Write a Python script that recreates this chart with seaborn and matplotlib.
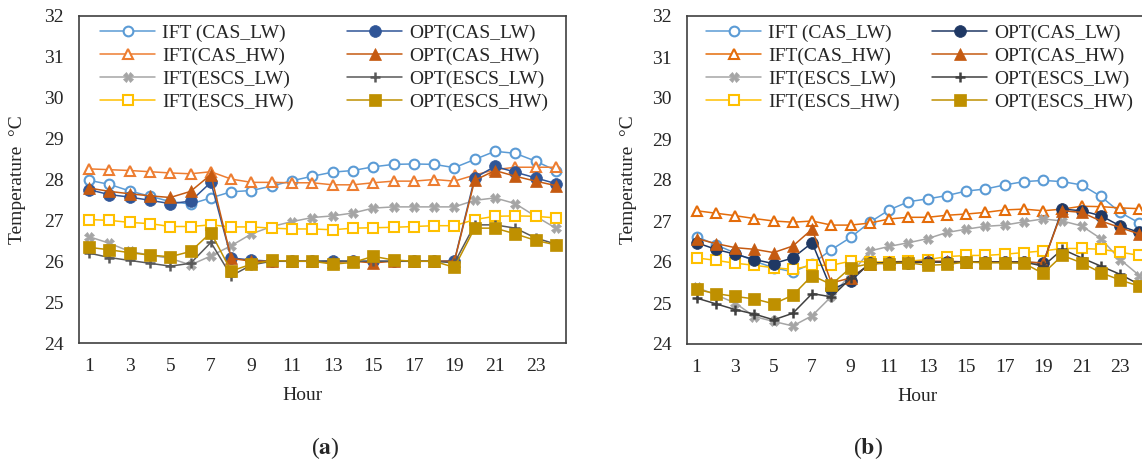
import numpy as np
import pandas as pd
import seaborn as sns
import matplotlib.pyplot as plt

# 시간(Hour) 1~24
hours = list(range(1, 25))
hour_ticks = list(range(1, 24, 2))
temp_ticks = list(range(24, 33))

labels = ['IFT (CAS_LW)', 'IFT(CAS_HW)', 'IFT(ESCS_LW)', 'IFT(ESCS_HW)',
          'OPT(CAS_LW)', 'OPT(CAS_HW)', 'OPT(ESCS_LW)', 'OPT(ESCS_HW)']

# (a)
a_ift_cas_lw = [27.98, 27.88, 27.72, 27.59, 27.46, 27.40, 27.55, 27.70, 27.73, 27.84, 27.97, 28.08,
                28.18, 28.22, 28.31, 28.37, 28.38, 28.37, 28.29, 28.49, 28.69, 28.64, 28.45, 28.22]
a_ift_cas_hw = [28.26, 28.24, 28.22, 28.19, 28.16, 28.14, 28.19, 28.01, 27.93, 27.93, 27.92, 27.92,
                27.87, 27.87, 27.92, 27.96, 27.96, 28.00, 27.96, 28.11, 28.24, 28.30, 28.30, 28.30]
a_ift_escs_lw = [26.60, 26.44, 26.24, 26.15, 26.07, 25.91, 26.13, 26.38, 26.67, 26.85, 26.97, 27.07,
                 27.11, 27.18, 27.30, 27.33, 27.33, 27.33, 27.33, 27.49, 27.55, 27.41, 27.10, 26.81]
a_ift_escs_hw = [27.02, 27.00, 26.95, 26.92, 26.85, 26.85, 26.89, 26.84, 26.84, 26.81, 26.79, 26.79,
                 26.77, 26.81, 26.82, 26.83, 26.85, 26.87, 26.87, 27.02, 27.10, 27.11, 27.10, 27.06]
a_opt_cas_lw = [27.75, 27.63, 27.57, 27.49, 27.41, 27.47, 27.93, 26.08, 26.03, 26.00, 26.00, 26.00,
                26.01, 26.00, 26.00, 26.00, 26.00, 26.00, 26.01, 28.04, 28.32, 28.18, 28.04, 27.90]
a_opt_cas_hw = [27.79, 27.71, 27.65, 27.60, 27.56, 27.71, 28.12, 26.07, 26.00, 26.00, 26.00, 26.00,
                25.97, 26.00, 25.96, 26.00, 26.00, 26.00, 26.00, 27.98, 28.22, 28.08, 27.96, 27.85]
a_opt_escs_lw = [26.20, 26.09, 26.02, 25.95, 25.88, 25.95, 26.46, 25.64, 25.91, 26.00, 26.00, 26.00,
                 26.00, 26.00, 26.00, 26.00, 26.00, 26.00, 25.96, 26.89, 26.89, 26.81, 26.57, 26.42]
a_opt_escs_hw = [26.34, 26.28, 26.21, 26.15, 26.11, 26.24, 26.70, 25.76, 25.93, 26.02, 26.00, 26.00,
                 25.93, 25.97, 26.12, 26.03, 26.00, 26.00, 25.85, 26.81, 26.81, 26.67, 26.51, 26.40]

# (b)
b_ift_cas_lw = [26.62, 26.42, 26.22, 26.02, 25.86, 25.76, 25.96, 26.30, 26.60, 26.97, 27.27, 27.47,
                27.54, 27.62, 27.73, 27.78, 27.88, 27.96, 27.99, 27.96, 27.88, 27.60, 27.21, 26.95]
b_ift_cas_hw = [27.25, 27.19, 27.13, 27.06, 27.00, 26.97, 27.00, 26.90, 26.90, 26.95, 27.05, 27.09,
                27.09, 27.14, 27.17, 27.21, 27.27, 27.29, 27.25, 27.29, 27.36, 27.35, 27.32, 27.30]
b_ift_escs_lw = [25.38, 25.20, 25.00, 24.67, 24.55, 24.44, 24.69, 25.16, 25.70, 26.27, 26.38, 26.47,
                 26.57, 26.72, 26.80, 26.87, 26.90, 26.98, 27.05, 27.00, 26.88, 26.57, 26.06, 25.67]
b_ift_escs_hw = [26.10, 26.04, 25.97, 25.92, 25.86, 25.82, 25.92, 25.92, 26.02, 26.00, 26.00, 26.02,
                 26.06, 26.13, 26.16, 26.16, 26.19, 26.23, 26.27, 26.33, 26.33, 26.31, 26.24, 26.16]
b_opt_cas_lw = [26.47, 26.31, 26.19, 26.06, 25.96, 26.10, 26.47, 25.33, 25.53, 25.98, 25.98, 25.98,
                26.00, 26.00, 26.00, 26.00, 26.00, 26.00, 25.97, 27.29, 27.25, 27.13, 26.88, 26.72]
b_opt_cas_hw = [26.57, 26.45, 26.35, 26.31, 26.23, 26.39, 26.80, 25.49, 25.61, 25.94, 26.00, 26.00,
                26.02, 26.02, 26.00, 26.00, 26.00, 26.00, 25.98, 27.25, 27.21, 27.00, 26.84, 26.68]
b_opt_escs_lw = [25.12, 24.98, 24.84, 24.73, 24.59, 24.75, 25.23, 25.15, 25.60, 25.95, 26.00, 26.00,
                 26.00, 26.00, 26.00, 26.00, 26.00, 26.00, 25.90, 26.31, 26.10, 25.90, 25.70, 25.45]
b_opt_escs_hw = [25.33, 25.23, 25.16, 25.10, 24.98, 25.19, 25.67, 25.45, 25.86, 25.96, 25.96, 25.98,
                 25.92, 25.94, 26.00, 25.98, 25.98, 25.97, 25.72, 26.16, 25.98, 25.74, 25.56, 25.41]

series_a = [a_ift_cas_lw, a_ift_cas_hw, a_ift_escs_lw, a_ift_escs_hw,
            a_opt_cas_lw, a_opt_cas_hw, a_opt_escs_lw, a_opt_escs_hw]
series_b = [b_ift_cas_lw, b_ift_cas_hw, b_ift_escs_lw, b_ift_escs_hw,
            b_opt_cas_lw, b_opt_cas_hw, b_opt_escs_lw, b_opt_escs_hw]

# 스타일 (색, 마커, 크기, 채움)
def st(color, marker, ms, face=None, mew=1.5):
    return dict(color=color, marker=marker, markersize=ms,
                markerfacecolor=face if face else color,
                markeredgecolor=color, markeredgewidth=mew)

styles_a = [st('#5B9BD5', 'o', 7, 'white'), st('#ED7D31', '^', 7.5, 'white'),
            st('#A5A5A5', 'X', 7, mew=0.5), st('#FFC000', 's', 7, 'white'),
            st('#2F5597', 'o', 8.5, mew=0.5), st('#C55A11', '^', 8.5, mew=0.5),
            st('#595959', '+', 7, mew=1.8), st('#BF9000', 's', 9, mew=0.5)]
styles_b = [st('#5B9BD5', 'o', 7, 'white'), st('#E46C0A', '^', 7.5, 'white'),
            st('#A5A5A5', 'X', 7, mew=0.5), st('#FFC000', 's', 7, 'white'),
            st('#1F3864', 'o', 8.5, mew=0.5), st('#C55A11', '^', 8.5, mew=0.5),
            st('#404040', '+', 7, mew=1.8), st('#BF9000', 's', 9, mew=0.5)]

sns.set_style('white')
plt.rcParams['font.family'] = ['Liberation Serif', 'DejaVu Serif']
plt.rcParams['mathtext.fontset'] = 'stix'

W, H = 1142, 466
fig = plt.figure(figsize=(W / 100, H / 100), dpi=100)
ax_a = fig.add_axes([79 / W, 1 - 343 / H, 487 / W, 327 / H])
ax_b = fig.add_axes([687 / W, 1 - 344 / H, 462 / W, 328 / H])


def draw(ax, series, styles, leg_x, xlab_x, ylab_x):
    for vals, s in zip(series, styles):
        sns.lineplot(x=hours, y=vals, ax=ax, linewidth=1.1, errorbar=None, **s)
    ax.set_xlim(0.5, 24.5)
    ax.set_ylim(24, 32)
    ax.set_xticks(hour_ticks)
    ax.set_yticks(temp_ticks)
    ax.tick_params(length=0, pad=11, labelsize=14)
    for sp in ax.spines.values():
        sp.set_color('#404040')
        sp.set_linewidth(1.2)
    ax.set_xlabel('Hour', fontsize=14)
    ax.set_ylabel('Temperature  °C', fontsize=14)
    ax.xaxis.set_label_coords(xlab_x, -0.135)
    ax.yaxis.set_label_coords(ylab_x, 0.5)
    lines = ax.get_lines()
    common = dict(loc='upper left', bbox_transform=fig.transFigure, frameon=False,
                  borderpad=0, borderaxespad=0, handlelength=2.85, handletextpad=0.35,
                  labelspacing=0.28, fontsize=14)
    leg1 = ax.legend(handles=lines[:4], labels=labels[:4],
                     bbox_to_anchor=(leg_x[0] / W, 1 - 24 / H), **common)
    ax.add_artist(leg1)
    ax.legend(handles=lines[4:], labels=labels[4:],
              bbox_to_anchor=(leg_x[1] / W, 1 - 24 / H), **common)


draw(ax_a, series_a, styles_a, (100, 347), 0.458, -0.109)
draw(ax_b, series_b, styles_b, (706, 932), 0.498, -0.108)

fig.text(325 / W, 1 - 448 / H, r'($\mathbf{a}$)', ha='center', va='center', fontsize=17)
fig.text(868 / W, 1 - 448 / H, r'($\mathbf{b}$)', ha='center', va='center', fontsize=17)

fig.savefig('out.png', dpi=100)
